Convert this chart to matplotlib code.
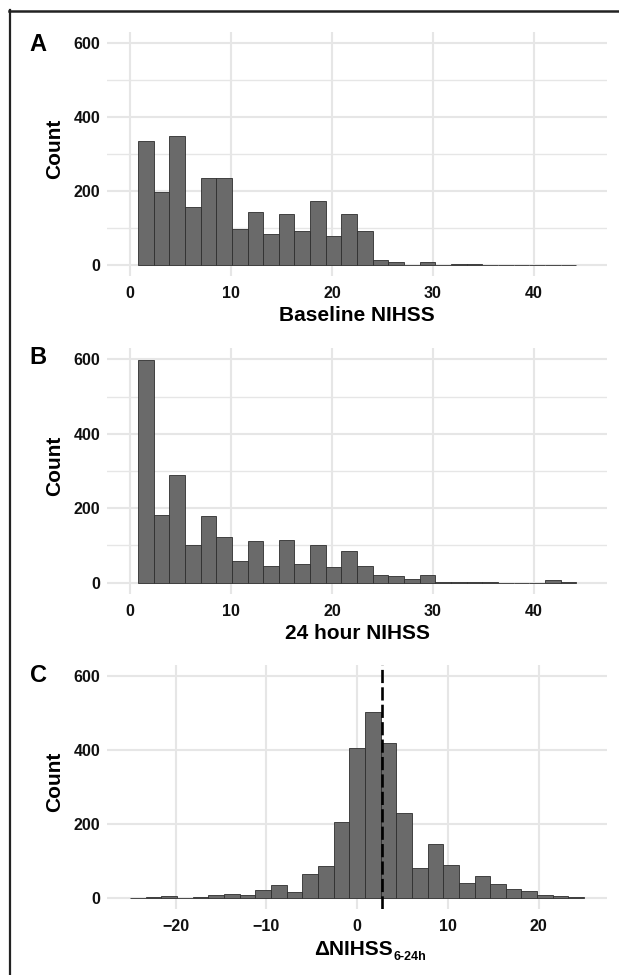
import numpy as np
import matplotlib
matplotlib.use('Agg')
import matplotlib.pyplot as plt
from matplotlib.lines import Line2D

plt.rcParams['font.family'] = ['Liberation Sans', 'DejaVu Sans']
plt.rcParams['font.weight'] = 'bold'

# ──────────────────────── DATA ───────────────────────────────────────────────
# histogram counts, ggplot-style bins (30 bins over the shown range, centred on 0)
nihss_range = (0, 45)
delta_range = (-25, 25)
n_bins = 30

baseline_counts = [334, 197, 349, 157, 235, 234, 97, 143, 84, 137, 93, 174, 77, 137,
                   92, 14, 7, 1, 7, 0, 2, 2, 1, 1, 1, 0, 1, 0]
h24_counts = [597, 181, 288, 101, 179, 122, 59, 113, 46, 115, 50, 100, 42, 85,
              46, 20, 17, 9, 21, 1, 2, 3, 1, 0, 0, 0, 6, 1]
delta_counts = [2, 4, 7, 0, 3, 9, 11, 8, 22, 37, 16, 65, 86, 205, 407, 503, 420,
                230, 81, 147, 91, 41, 59, 38, 25, 20, 10, 6, 4]
delta_marker = 2.77   # dashed reference line in panel C

panel_letters = ['A', 'B', 'C']
x_labels = ['Baseline NIHSS', '24 hour NIHSS', 'ΔNIHSS']
nihss_ticks = [0, 10, 20, 30, 40]
delta_ticks = [-20, -10, 0, 10, 20]
count_ticks = [0, 200, 400, 600]

BAR_FILL = '#6a6a6a'
BAR_EDGE = '#2e2e2e'
GRID = '#e6e6e6'

W, H = 619, 975


def bin_layout(rng, counts):
    """Bin width and centres; bins are centred on multiples of the width."""
    width = (rng[1] - rng[0]) / (n_bins - 1)
    if rng[0] == 0:
        # first (empty) bin around 0 is not drawn
        centers = width * np.arange(1, len(counts) + 1)
    else:
        half = len(counts) // 2
        centers = width * np.arange(-half, half + 1)
    return width, centers


def style_axis(ax, xticks, xlim, minor_y):
    ax.set_xlim(*xlim)
    ax.set_ylim(-30, 630)
    ax.set_xticks(xticks)
    ax.set_yticks(count_ticks)
    ax.set_xticklabels([str(t).replace('-', '\u2212') for t in xticks])
    if minor_y:
        ax.set_yticks([100, 300, 500], minor=True)
        ax.grid(True, which='minor', axis='y', color=GRID, lw=1.0, zorder=0)
    ax.grid(True, which='major', color=GRID, lw=1.5, zorder=0)
    ax.set_axisbelow(True)
    for s in ax.spines.values():
        s.set_visible(False)
    ax.tick_params(which='both', length=0, labelsize=11.5, colors='#111111')
    ax.tick_params(axis='x', pad=7)
    ax.tick_params(axis='y', pad=5)
    ax.set_ylabel('Count', fontsize=15, fontweight='bold', labelpad=7)
    ax.yaxis.label.set_y(0.52)


fig = plt.figure(figsize=(W / 100, H / 100), dpi=100)
fig.patch.set_facecolor('white')

left, width = 107.4 / W, 499.4 / W
tops = [31.6, 348.1, 664.9]
bottoms = [276.1, 593.9, 909.4]
letter_baselines = [51.0, 364.5, 681.5]

series = [
    (baseline_counts, nihss_range, nihss_ticks, True),
    (h24_counts, nihss_range, nihss_ticks, True),
    (delta_counts, delta_range, delta_ticks, False),
]

axes = []
for i, (counts, rng, ticks, minor_y) in enumerate(series):
    ax = fig.add_axes([left, 1 - bottoms[i] / H, width, (bottoms[i] - tops[i]) / H])
    bw, centers = bin_layout(rng, counts)
    ax.bar(centers, counts, width=bw, color=BAR_FILL, edgecolor=BAR_EDGE,
           linewidth=0.6, zorder=2)
    pad = 0.05 * (rng[1] - rng[0])
    style_axis(ax, ticks, (rng[0] - pad, rng[1] + pad), minor_y)
    ax.set_xlabel(x_labels[i], fontsize=15, fontweight='bold', labelpad=4)
    fig.text(29.5 / W, 1 - letter_baselines[i] / H, panel_letters[i],
             fontsize=17, fontweight='bold', ha='left', va='baseline')
    axes.append(ax)

# panel C: reference line and subscripted label
ax = axes[2]
ax.axvline(delta_marker, color='black', lw=1.9, dashes=(5, 1.6), zorder=3)
ax.xaxis.label.set_x(0.4928)
ax.annotate('6-24h', xy=(1, 0), xycoords=ax.xaxis.label, xytext=(0.8, -1.2),
            textcoords='offset points', ha='left', va='baseline',
            fontsize=9, fontweight='bold')

# frame remnants (top and left edges)
fig.add_artist(Line2D([9 / W, 1], [1 - 10.7 / H] * 2, transform=fig.transFigure,
                      color='#222222', lw=1.8))
fig.add_artist(Line2D([10 / W] * 2, [0, 1 - 10 / H], transform=fig.transFigure,
                      color='#222222', lw=1.6))

fig.savefig('out.png', dpi=100)
plt.close(fig)
